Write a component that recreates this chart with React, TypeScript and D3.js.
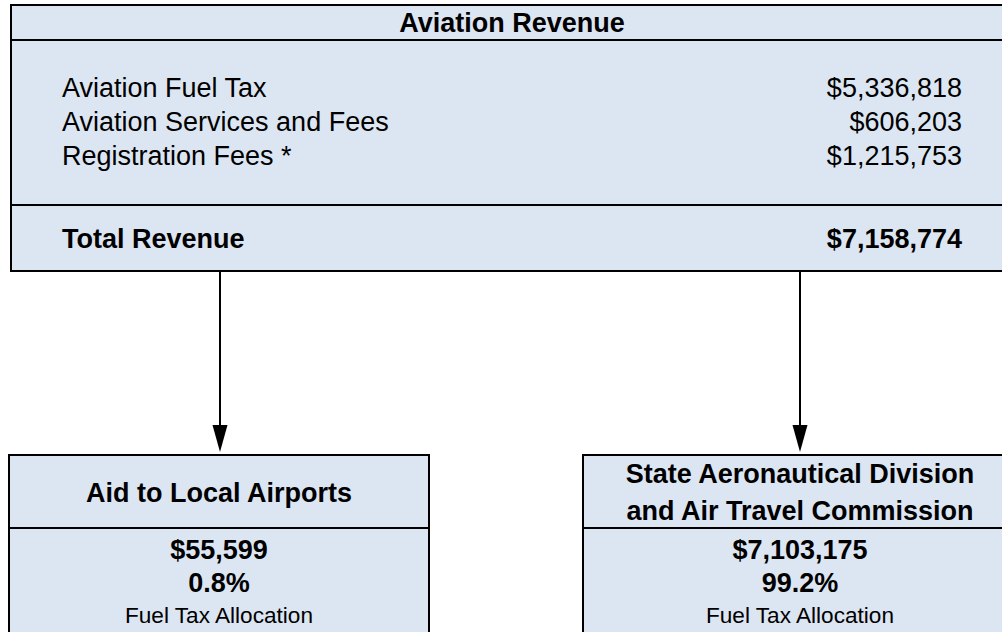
import React from "react";
import * as d3 from "d3";

const TITLE = "Aviation Revenue";
const revenueLabels = ["Aviation Fuel Tax", "Aviation Services and Fees", "Registration Fees *"];
const revenueValues = [5336818, 606203, 1215753];
const totalLabel = "Total Revenue";
const totalValue = 7158774;

const allocTitles = [["Aid to Local Airports"], ["State Aeronautical Division", "and Air Travel Commission"]];
const allocValues = [55599, 7103175];
const allocPercents = [0.008, 0.992];
const allocNote = "Fuel Tax Allocation";

const W = 1002;
const H = 632;
const FILL = "#dce6f2";
const FONT = "'Liberation Sans', Arial, Helvetica, sans-serif";
const FS = 27;
const FS_SMALL = 22.6;

const money = d3.format("$,");
const pct = d3.format(".1%");

export default function App() {
  const top = { x0: 11, x1: 1013, y0: 5, yTitle: 40, yTotal: 205, y1: 271 };
  const rowY = d3.scaleLinear().domain([0, 1]).range([97, 131]);
  const labelX = 62;
  const valueX = 962;

  const boxes = [
    { x0: 9, x1: 429 },
    { x0: 583, x1: 1017 },
  ];
  const boxTop = 455;
  const boxSep = 528;
  const boxBottom = 640;
  const arrowX = [220, 800];

  const titleY = (n: number, i: number) =>
    n === 1 ? 502 : d3.scaleLinear().domain([0, 1]).range([483, 520])(i);

  return (
    <svg
      width={W}
      height={H}
      viewBox={`0 0 ${W} ${H}`}
      style={{ position: "absolute", left: 0, top: 0, background: "#fff" }}
      fontFamily={FONT}
    >
      <rect x={top.x0} y={top.y0} width={top.x1 - top.x0} height={top.y1 - top.y0} fill={FILL} stroke="#000" strokeWidth={2} />
      <line x1={top.x0} x2={top.x1} y1={top.yTitle} y2={top.yTitle} stroke="#000" strokeWidth={2} />
      <line x1={top.x0} x2={top.x1} y1={top.yTotal} y2={top.yTotal} stroke="#000" strokeWidth={2} />
      <text x={512} y={32} textAnchor="middle" fontSize={FS} fontWeight="bold" fill="#000">
        {TITLE}
      </text>
      {revenueLabels.map((l, i) => (
        <g key={l}>
          <text x={labelX} y={rowY(i)} fontSize={FS} fill="#000">{l}</text>
          <text x={valueX} y={rowY(i)} fontSize={FS} fill="#000" textAnchor="end">{money(revenueValues[i])}</text>
        </g>
      ))}
      <text x={labelX} y={248} fontSize={FS} fontWeight="bold" fill="#000">{totalLabel}</text>
      <text x={valueX} y={248} fontSize={FS} fontWeight="bold" fill="#000" textAnchor="end">{money(totalValue)}</text>

      {arrowX.map((x) => (
        <g key={x}>
          <line x1={x} x2={x} y1={top.y1} y2={428} stroke="#000" strokeWidth={2} />
          <path d={`M${x - 7.5},425 L${x + 7.5},425 L${x},452 Z`} fill="#000" />
        </g>
      ))}

      {boxes.map((b, i) => {
        const cx = (b.x0 + b.x1) / 2;
        const lines = allocTitles[i];
        return (
          <g key={i}>
            <rect x={b.x0} y={boxTop} width={b.x1 - b.x0} height={boxBottom - boxTop} fill={FILL} stroke="#000" strokeWidth={2} />
            <line x1={b.x0} x2={b.x1} y1={boxSep} y2={boxSep} stroke="#000" strokeWidth={2} />
            {lines.map((t, j) => (
              <text key={t} x={cx} y={titleY(lines.length, j)} textAnchor="middle" fontSize={FS} fontWeight="bold" fill="#000">
                {t}
              </text>
            ))}
            <text x={cx} y={559} textAnchor="middle" fontSize={FS} fontWeight="bold" fill="#000">{money(allocValues[i])}</text>
            <text x={cx} y={592} textAnchor="middle" fontSize={FS} fontWeight="bold" fill="#000">{pct(allocPercents[i])}</text>
            <text x={cx} y={623} textAnchor="middle" fontSize={FS_SMALL} fill="#000">{allocNote}</text>
          </g>
        );
      })}
    </svg>
  );
}
